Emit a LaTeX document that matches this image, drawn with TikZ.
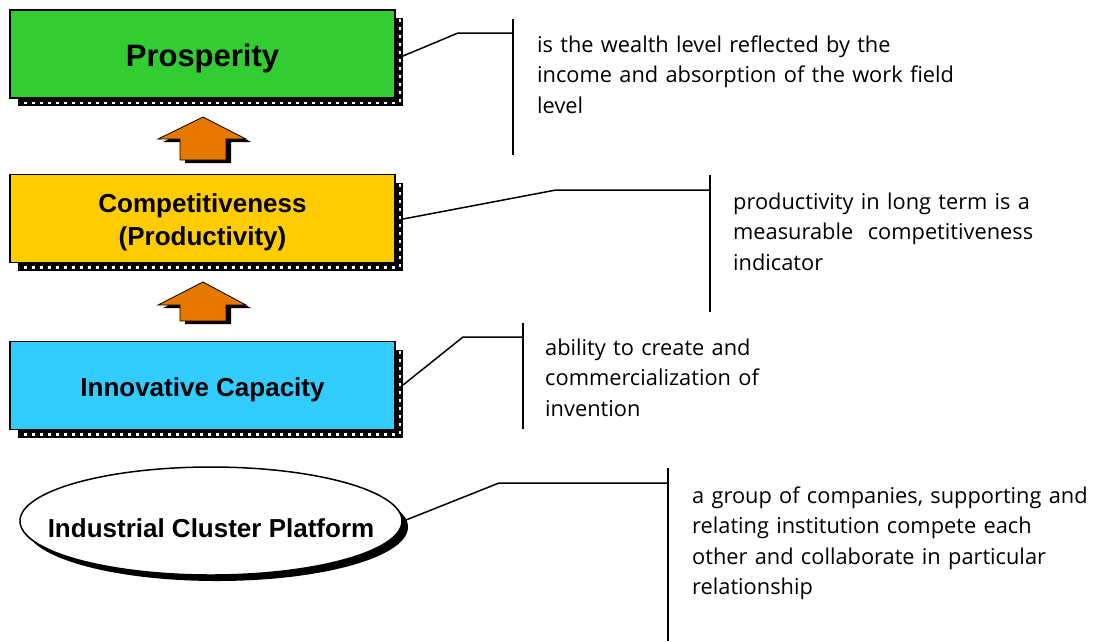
\documentclass[tikz,border=0pt]{standalone}
\usepackage{fontspec}
\setmainfont{Liberation Sans}
\newfontfamily\descfont{Open Sans}
\usetikzlibrary{shapes.geometric,shadows}
\definecolor{cgreen}{RGB}{51,204,51}
\definecolor{cyellow}{RGB}{255,204,0}
\definecolor{ccyan}{RGB}{51,204,255}
\definecolor{corange}{RGB}{230,120,0}
\tikzset{
  box/.style={draw=black, line width=1.5pt, minimum width=385pt, minimum height=88pt,
    inner sep=0pt,
    general shadow={fill=black, shadow xshift=8pt, shadow yshift=-8pt}},
  lbl/.style={align=center, inner sep=0pt, yshift=-4pt, font=\fontsize{26}{33}\selectfont\bfseries},
  sdash/.style={draw=white, line width=2.5pt, dash pattern=on 3pt off 5pt},
  desc/.style={anchor=base west, inner sep=0pt, align=left, text width=430pt,
    font=\descfont\fontsize{21.8}{30.5}\selectfont},
  link/.style={draw=black, line width=1.5pt},
  bar/.style={draw=black, line width=1.8pt},
  uparrow/.style={fill=corange, draw=black, line width=0.8pt},
}
\begin{document}
\begin{tikzpicture}[x=1pt,y=-1pt]
\useasboundingbox (0,0) rectangle (1107,641);

% boxes
\node[box, fill=cgreen, label={[lbl, font=\fontsize{31}{36}\selectfont\bfseries]center:Prosperity}] (P) at (202.5,54) {};
\draw[sdash] ([shift={(4pt,-10pt)}]P.north east) -- ([shift={(4pt,-4pt)}]P.south east) -- ([shift={(10pt,-4pt)}]P.south west);

\node[box, fill=cyellow, label={[lbl]center:Competitiveness\\(Productivity)}] (C) at (202.5,218.5) {};
\draw[sdash] ([shift={(4pt,-10pt)}]C.north east) -- ([shift={(4pt,-4pt)}]C.south east) -- ([shift={(10pt,-4pt)}]C.south west);

\node[box, fill=ccyan, label={[lbl]center:Innovative Capacity}] (I) at (202.5,385.5) {};
\draw[sdash] ([shift={(4pt,-10pt)}]I.north east) -- ([shift={(4pt,-4pt)}]I.south east) -- ([shift={(10pt,-4pt)}]I.south west);

% ellipse
\node[ellipse, draw=black, line width=1.5pt, fill=white, minimum width=382pt, minimum height=108pt,
  inner sep=0pt,
  general shadow={fill=black, shadow xshift=6pt, shadow yshift=-6pt},
  label={[lbl, yshift=-3pt]center:Industrial Cluster Platform}] (E) at (211,521) {};

% block arrows
\fill[black] (208,120) -- (251,142) -- (231,142) -- (231,163) -- (185,163) -- (185,142) -- (163,142) -- cycle;
\path[uparrow] (203,117) -- (246,139) -- (226,139) -- (226,160) -- (180,160) -- (180,139) -- (158,139) -- cycle;
\fill[black] (208,285) -- (251,308) -- (231,308) -- (231,324) -- (185,324) -- (185,308) -- (163,308) -- cycle;
\path[uparrow] (203,282) -- (246,305) -- (226,305) -- (226,321) -- (180,321) -- (180,305) -- (158,305) -- cycle;

% callout coordinates
\coordinate (Ps) at (403,56);  \coordinate (Pb) at (458,33);  \coordinate (Pm) at (513,33);
\coordinate (Pt) at (513,19);  \coordinate (Pd) at (513,155);
\coordinate (Cs) at (403,219); \coordinate (Cb) at (556,190); \coordinate (Cm) at (710,190);
\coordinate (Ct) at (710,175); \coordinate (Cd) at (710,312);
\coordinate (Is) at (403,385); \coordinate (Ib) at (463,337); \coordinate (Im) at (523,337);
\coordinate (It) at (523,323); \coordinate (Id) at (523,429);
\coordinate (Es) at (406,520); \coordinate (Eb) at (499,483); \coordinate (Em) at (668,483);
\coordinate (Et) at (668,468); \coordinate (Ed) at (668,641);

\path[link] (Ps) -- (Pb) -- (Pm);
\path[bar] (Pt) -- (Pd);
\path[link] (Cs) -- (Cb) -- (Cm);
\path[bar] (Ct) -- (Cd);
\path[link] (Is) -- (Ib) -- (Im);
\path[bar] (It) -- (Id);
\path[link] (Es) -- (Eb) -- (Em);
\path[bar] (Et) -- (Ed);

% descriptions
\node[desc] (Pt1) at (537,52) {is the wealth level reflected by the\\income and absorption of the work field\\level};
\node[desc] (Ct1) at (733,209) {productivity in long term is a\\measurable\ \ competitiveness\\indicator};
\node[desc] (It1) at (545,355) {ability to create and\\commercialization of\\invention};
\node[desc] (Et1) at (692,503) {a group of companies, supporting and\\relating institution compete each\\other and collaborate in particular\\relationship};
\end{tikzpicture}
\end{document}
